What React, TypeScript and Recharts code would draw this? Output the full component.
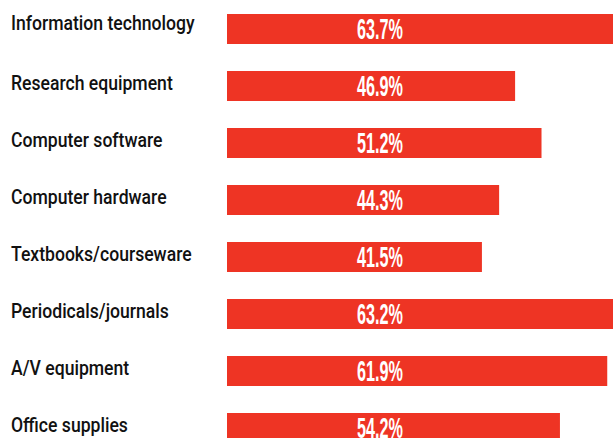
import React from "react";
import { BarChart, Bar, XAxis, YAxis, LabelList } from "recharts";

const categories = [
  "Information technology",
  "Research equipment",
  "Computer software",
  "Computer hardware",
  "Textbooks/courseware",
  "Periodicals/journals",
  "A/V equipment",
  "Office supplies",
];
const values = [63.7, 46.9, 51.2, 44.3, 41.5, 63.2, 61.9, 54.2];

const data = categories.map((name, i) => ({ name, value: values[i] }));

const BAR_COLOR = "#ee3424";

const CategoryTick = (props: any) => {
  const { y, payload, index } = props;
  const dy = index === 0 ? 1 : 4.5;
  return (
    <text
      transform={`translate(11, ${y + dy}) scale(0.88, 1)`}
      x={0}
      y={0}
      fontFamily="Roboto, 'Liberation Sans', Arial, sans-serif"
      fontWeight={500}
      fontSize={20}
      fill="#111111"
      textAnchor="start"
    >
      {payload.value}
    </text>
  );
};

const ValueLabel = (props: any) => {
  const { x, y, value } = props;
  const cx = x + 153;
  const by = y + 25;
  return (
    <text
      transform={`translate(${cx}, ${by}) scale(0.54, 1)`}
      x={0}
      y={0}
      fontFamily="'Liberation Sans', Arial, sans-serif"
      fontWeight={700}
      fontSize={30}
      fill="#ffffff"
      textAnchor="middle"
    >
      {`${Number(value).toFixed(1)}%`}
    </text>
  );
};

export default function App() {
  return (
    <div
      style={{
        position: "absolute",
        left: 0,
        top: 0,
        width: 613,
        height: 438,
        overflow: "hidden",
        background: "#ffffff",
      }}
    >
      <BarChart
        width={657}
        height={456}
        data={data}
        layout="vertical"
        margin={{ top: 0, right: 0, bottom: 0, left: 0 }}
      >
        <XAxis type="number" domain={[0, 70]} allowDataOverflow hide />
        <YAxis
          type="category"
          dataKey="name"
          width={227}
          axisLine={false}
          tickLine={false}
          tick={<CategoryTick />}
          interval={0}
        />
        <Bar dataKey="value" fill={BAR_COLOR} barSize={30} isAnimationActive={false}>
          <LabelList dataKey="value" content={<ValueLabel />} />
        </Bar>
      </BarChart>
    </div>
  );
}
